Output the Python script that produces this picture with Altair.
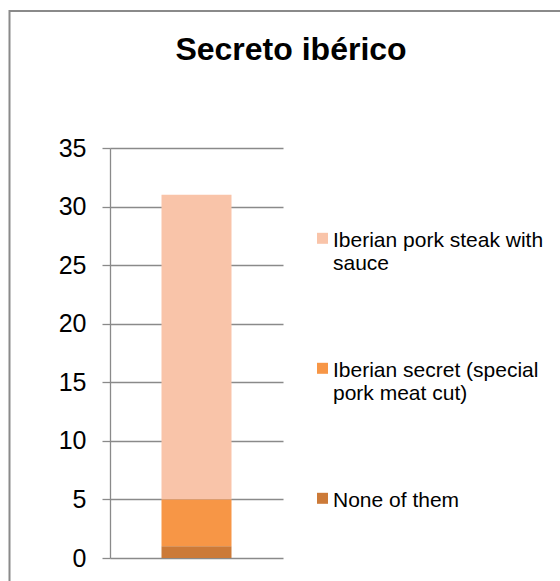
import altair as alt
import pandas as pd

# ---- data ----
dish = ["Secreto ibérico"] * 3
answers = ["Iberian pork steak with sauce",
           "Iberian secret (special pork meat cut)",
           "None of them"]
label_lines = [["Iberian pork steak with", "sauce"],
               ["Iberian secret (special", "pork meat cut)"],
               ["None of them"]]
values = [26, 4, 1]
stack_rank = [2, 1, 0]
colors = ["#F9C4A9", "#F79646", "#CC7A38"]
y_ticks = [0, 5, 10, 15, 20, 25, 30, 35]
title_text = "Secreto ibérico"

df = pd.DataFrame({"dish": dish, "answer": answers, "value": values, "rank": stack_rank})

FONT = "Liberation Sans, Arial, sans-serif"
GRID = "#8a8a8a"

# legend label expression built from the label_lines list
expr = "datum.label"
for full, lines in reversed(list(zip(answers, label_lines))):
    arr = "[" + ", ".join("'" + l + "'" for l in lines) + "]"
    expr = f"datum.label == '{full}' ? {arr} : ({expr})"

# square symbol shifted down so it sits beside the first label line
SYMBOL = "M-1,0.6H1V2.6H-1Z"

bars = alt.Chart(df).mark_bar(size=70).encode(
    x=alt.X("dish:N", axis=None),
    y=alt.Y("value:Q", stack="zero",
            scale=alt.Scale(domain=[0, 35], nice=False),
            axis=alt.Axis(values=y_ticks, title=None, labelFontSize=25, labelFont=FONT,
                          labelColor="black", labelPadding=16, tickSize=8,
                          tickColor=GRID, tickWidth=1.3, domainColor=GRID, domainWidth=1.3,
                          gridColor=GRID, gridWidth=1.3, grid=True)),
    color=alt.Color("answer:N",
                    scale=alt.Scale(domain=answers, range=colors),
                    legend=alt.Legend(title=None, orient="none", legendX=202, legendY=71,
                                      symbolType=SYMBOL, symbolSize=121, symbolStrokeWidth=0,
                                      labelFont=FONT, labelFontSize=21, labelColor="black",
                                      labelBaseline="top", labelOffset=0, labelLimit=400,
                                      rowPadding=75, padding=0, labelExpr=expr)),
    order=alt.Order("rank:Q", sort="ascending"),
)

frame = alt.Chart(pd.DataFrame({"a": [0]})).mark_rect(
    fillOpacity=0, stroke="#8a8a8a", strokeWidth=2
).encode(
    x=alt.value(-100.5), x2=alt.value(600), y=alt.value(-137), y2=alt.value(700)
)

chart = alt.layer(frame, bars).properties(
    width=173, height=410,
    title=alt.TitleParams(title_text, font=FONT, fontSize=32, fontWeight="bold",
                          color="black", anchor="middle", frame="group", dx=94.5,
                          offset=0, baseline="alphabetic", dy=82),
    padding={"left": 110, "top": 148, "right": 277, "bottom": 23},
    autosize=alt.AutoSizeParams(type="none"),
    background="white",
).configure_view(strokeWidth=0)

chart.save("out.html", embed_options={"renderer": "svg", "actions": False})
